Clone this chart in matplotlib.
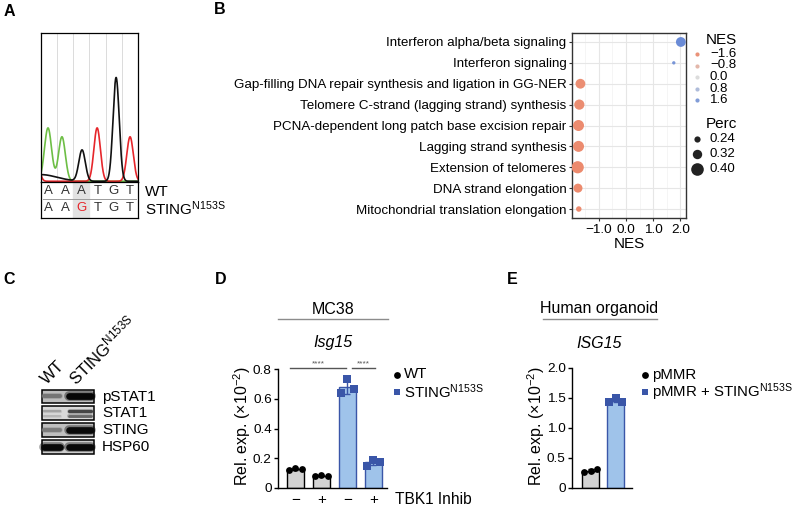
import matplotlib
matplotlib.use("Agg")
import matplotlib.pyplot as plt
import numpy as np
from matplotlib.colors import LinearSegmentedColormap, Normalize
from matplotlib.patches import Rectangle

W, H = 800, 507

plt.rcParams["font.family"] = ["Liberation Sans", "DejaVu Sans"]
plt.rcParams["mathtext.fontset"] = "custom"
plt.rcParams["mathtext.rm"] = "Liberation Sans"
plt.rcParams["mathtext.it"] = "Liberation Sans:italic"
plt.rcParams["axes.unicode_minus"] = True

# ---- A: Sanger trace around codon 153 ----
seq_wt = ["A", "A", "A", "T", "G", "T"]
seq_mut = ["A", "A", "G", "T", "G", "T"]
peak_pos = [-0.35, 0.0, 0.45, 1.31, 2.55, 3.48, 4.65, 5.51]
peak_height = [0.25, 0.045, 0.36, 0.30, 0.21, 0.36, 0.70, 0.30]
peak_sigma = [0.2, 1.0, 0.22, 0.21, 0.2, 0.2, 0.19, 0.2]
peak_base = ["T", "G", "A", "A", "G", "T", "G", "T"]

# ---- B: GSEA dot plot ----
pathways = [
    "Interferon alpha/beta signaling",
    "Interferon signaling",
    "Gap-filling DNA repair synthesis and ligation in GG-NER",
    "Telomere C-strand (lagging strand) synthesis",
    "PCNA-dependent long patch base excision repair",
    "Lagging strand synthesis",
    "Extension of telomeres",
    "DNA strand elongation",
    "Mitochondrial translation elongation",
]
nes = [2.02, 1.76, -1.68, -1.72, -1.75, -1.75, -1.78, -1.77, -1.74]
perc = [0.33, 0.16, 0.33, 0.34, 0.36, 0.36, 0.39, 0.31, 0.22]
nes_legend = [-1.6, -0.8, 0.0, 0.8, 1.6]
perc_legend = [0.24, 0.32, 0.40]

# ---- C: western blot ----
blot_proteins = ["pSTAT1", "STAT1", "STING", "HSP60"]
band_main = [[0.38, 0.97], [0.25, 0.68], [0.35, 0.95], [0.96, 0.96]]
band_lower = [[0.0, 0.0], [0.16, 0.52], [0.0, 0.0], [0.0, 0.0]]

# ---- D: MC38 Isg15 ----
d_inhib = ["\u2212", "+", "\u2212", "+"]
d_points = [[0.12, 0.135, 0.13], [0.08, 0.085, 0.08], [0.64, 0.73, 0.665], [0.15, 0.19, 0.175]]
d_genotype = ["WT", "WT", "STING", "STING"]

# ---- E: human organoid ISG15 ----
e_points = [[0.27, 0.28, 0.32], [1.44, 1.50, 1.44]]
e_genotype = ["WT", "STING"]

WT_FILL, WT_EDGE = "#D3D3D3", "#000000"
ST_FILL, ST_EDGE = "#9FC3EA", "#3A56A8"


def px_axes(x0, y0, x1, y1):
    return fig.add_axes([x0 / W, 1 - y1 / H, (x1 - x0) / W, (y1 - y0) / H])


fig = plt.figure(figsize=(W / 100, H / 100), dpi=100)

# ================= A =================
tr = px_axes(40.7, 33, 138, 182)
x = np.linspace(0, 6, 900)
for base, col in [("A", "#6DBE45"), ("T", "#E6262B"), ("G", "#111111")]:
    y = np.zeros_like(x)
    for p, h, s, b in zip(peak_pos, peak_height, peak_sigma, peak_base):
        if b == base:
            y += h * np.exp(-0.5 * ((x - p) / s) ** 2)
    tr.plot(x, y, color=col, lw=1.2)
for k in range(1, 6):
    tr.axvline(k, color="#D6D6D6", lw=0.6, zorder=0)
tr.set_xlim(0, 6)
tr.set_ylim(-0.005, 1.0)
tr.set_xticks([])
tr.set_yticks([])
for sp in tr.spines.values():
    sp.set_linewidth(0.9)

tb = px_axes(40.7, 182, 138, 218)
tb.set_xlim(0, 6)
tb.set_ylim(0, 1)
tb.add_patch(Rectangle((2, 0), 1, 1, color="#E2E2E2", zorder=0))
tb.plot([0.15, 5.85], [0.535, 0.535], color="#9A9A9A", lw=0.7)
for i, (a, b) in enumerate(zip(seq_wt, seq_mut)):
    tb.text(i + 0.5, 0.76, a, ha="center", va="center", fontsize=9.5, color="#333333")
    tb.text(i + 0.5, 0.27, b, ha="center", va="center", fontsize=9.5,
            color="#E6262B" if a != b else "#333333")
tb.set_xticks([])
tb.set_yticks([])
for sp in tb.spines.values():
    sp.set_linewidth(0.9)

# ================= B =================
cmap = LinearSegmentedColormap.from_list("nes", ["#EE7F5E", "#DCDCDC", "#6A8BD6"])
norm = Normalize(-2.02, 2.02)


def perc_to_size(p):
    d_px = np.interp(p, [0.15, 0.24, 0.32, 0.40], [3.0, 6.2, 9.4, 12.6])
    return (d_px * 0.72) ** 2


bx = px_axes(572, 33, 686, 218)
ypos = np.arange(len(pathways))[::-1]
bx.scatter(nes, ypos, s=perc_to_size(np.array(perc)), c=cmap(norm(np.array(nes))),
           linewidths=0, zorder=3)
bx.set_xlim(-1.99, 2.21)
bx.set_ylim(-0.43, len(pathways) - 1 + 0.43)
bx.set_yticks(ypos)
bx.set_yticklabels(pathways, fontsize=9.6)
bx.set_xticks([-1.0, 0.0, 1.0, 2.0])
bx.set_xticklabels(["\u22121.0", "0.0", "1.0", "2.0"], fontsize=9.7)
bx.set_xticks([-1.5, -0.5, 0.5, 1.5], minor=True)
bx.grid(True, which="major", color="#E6E6E6", lw=0.8)
bx.grid(True, which="minor", axis="x", color="#F2F2F2", lw=0.5)
bx.tick_params(which="major", length=2.5, width=0.8, color="#333333", pad=1.5)
bx.tick_params(which="minor", length=0)
bx.set_axisbelow(True)
for sp in bx.spines.values():
    sp.set_color("#333333")
    sp.set_linewidth(1.0)

# ================= C =================
cx = px_axes(42, 389.5, 94, 454)
cx.set_xlim(-0.357, 1.5)
cx.set_ylim(3.41, -0.41)
cx.axis("off")
bg_levels = [0.74, 0.85, 0.75, 0.80]
lane_half = [0.27, 0.40]
for r, prot in enumerate(blot_proteins):
    cx.add_patch(Rectangle((-0.357, r - 0.41), 1.857, 0.82, facecolor=str(bg_levels[r]),
                           edgecolor="black", lw=1.1, clip_on=False))
    for lane in range(2):
        bands = [(0.0, band_main[r][lane])]
        if band_lower[r][lane] > 0:
            bands = [(-0.15, band_main[r][lane]), (0.17, band_lower[r][lane])]
        for off, inten in bands:
            g = bg_levels[r] * (1 - inten)
            thick = (2.0 + 4.2 * inten) if len(bands) == 1 else (1.6 + 1.8 * inten)
            xs = [lane - lane_half[lane], lane + lane_half[lane]]
            cx.plot(xs, [r + off] * 2, color=str(g), lw=thick * 1.15, alpha=0.4,
                    solid_capstyle="round", clip_on=False)
            cx.plot(xs, [r + off] * 2, color=str(g), lw=thick * 0.8,
                    solid_capstyle="round", clip_on=False)

# ================= D =================
offsets = np.array([-0.25, 0.0, 0.25])
dx = px_axes(278, 369, 387, 488)
for i, pts in enumerate(d_points):
    wt = d_genotype[i] == "WT"
    fill, edge = (WT_FILL, WT_EDGE) if wt else (ST_FILL, ST_EDGE)
    m, sd = np.mean(pts), np.std(pts, ddof=1)
    dx.bar(i, m, width=0.65, color=fill, edgecolor=edge, lw=1.0, zorder=2)
    dx.errorbar(i, m, yerr=sd, color=edge, capsize=2.5, lw=1.0, capthick=1.0, zorder=3)
    dx.scatter(i + offsets, pts, marker="o" if wt else "s", s=24 if wt else 28,
               color="black" if wt else ST_EDGE, zorder=4, clip_on=False, linewidths=0)
dx.set_xlim(-0.673, 3.52)
dx.set_ylim(0, 0.8)
dx.set_yticks([0, 0.2, 0.4, 0.6, 0.8])
dx.set_yticklabels(["0", "0.2", "0.4", "0.6", "0.8"], fontsize=9.7)
dx.set_xticks(range(4))
dx.set_xticklabels(d_inhib, fontsize=11)
dx.tick_params(axis="x", length=0, pad=3.5)
dx.tick_params(axis="y", length=3, width=1.0, pad=1.5)
for s in ["top", "right"]:
    dx.spines[s].set_visible(False)
for s in ["left", "bottom"]:
    dx.spines[s].set_linewidth(1.0)
# significance bars
for (a, b) in [(0, 2), (2, 3)]:
    lo, hi = (a - 0.2, b - 0.05) if b == 2 else (a + 0.18, b + 0.05)
    dx.plot([lo, hi], [0.805, 0.805], color="#555555", lw=1.0, clip_on=False)
    dx.text((lo + hi) / 2, 0.81, "****", ha="center", va="bottom", fontsize=6,
            color="#555555", clip_on=False)

# ================= E =================
ex = px_axes(572, 368, 632, 488)
for i, pts in enumerate(e_points):
    wt = e_genotype[i] == "WT"
    fill, edge = (WT_FILL, WT_EDGE) if wt else (ST_FILL, ST_EDGE)
    m, sd = np.mean(pts), np.std(pts, ddof=1)
    ex.bar(i, m, width=0.68, color=fill, edgecolor=edge, lw=1.0, zorder=2)
    ex.errorbar(i, m, yerr=sd, color=edge, capsize=2.5, lw=1.0, capthick=1.0, zorder=3)
    ex.scatter(i + offsets, pts, marker="o" if wt else "s", s=24 if wt else 28,
               color="black" if wt else ST_EDGE, zorder=4, clip_on=False, linewidths=0)
ex.set_xlim(-0.74, 1.66)
ex.set_ylim(0, 2.0)
ex.set_yticks([0, 0.5, 1.0, 1.5, 2.0])
ex.set_yticklabels(["0", "0.5", "1.0", "1.5", "2.0"], fontsize=9.7)
ex.set_xticks([])
ex.tick_params(axis="y", length=3, width=1.0, pad=1.5)
for s in ["top", "right"]:
    ex.spines[s].set_visible(False)
for s in ["left", "bottom"]:
    ex.spines[s].set_linewidth(1.0)

# ================= overlay text =================
ov = fig.add_axes([0, 0, 1, 1])
ov.set_xlim(0, W)
ov.set_ylim(H, 0)
ov.axis("off")

for lab, (lx, ly) in zip("ABCDE", [(9, 12), (220, 10), (9, 279), (221, 279), (512, 279)]):
    ov.text(lx, ly, lab, ha="center", va="center", fontsize=11.5, fontweight="bold")

sup = r"STING$^{\mathregular{N153S}}$"

# A labels
ov.text(145, 192, "WT", ha="left", va="center", fontsize=11)
ov.text(145, 209, sup, ha="left", va="center", fontsize=11)

# B axis label and legends
ov.text(629, 244, "NES", ha="center", va="center", fontsize=11)
ov.text(706, 40, "NES", ha="left", va="center", fontsize=11)
for k, v in enumerate(nes_legend):
    yy = 54 + k * 11.5
    ov.scatter([697], [yy], s=9, color=cmap(norm(v)), linewidths=0)
    ov.text(710, yy, f"{v:.1f}".replace("-", "\u2212"), ha="left", va="center", fontsize=9.5)
ov.text(706, 124, "Perc", ha="left", va="center", fontsize=11)
for k, v in enumerate(perc_legend):
    yy = 139 + k * 15
    ov.scatter([697], [yy], s=perc_to_size(v), color="#222222", linewidths=0)
    ov.text(710, yy, f"{v:.2f}", ha="left", va="center", fontsize=9.5)

# C labels
for r, prot in enumerate(blot_proteins):
    ov.text(102, 396.5 + r * 16.9, prot, ha="left", va="center", fontsize=11)
ov.text(47, 385, "WT", rotation=45, rotation_mode="anchor", ha="left", va="baseline", fontsize=12)
ov.text(76, 386, sup, rotation=45, rotation_mode="anchor", ha="left", va="baseline", fontsize=12)

# D titles, label, legend
ov.text(333, 309, "MC38", ha="center", va="center", fontsize=11.5)
ov.plot([278, 388], [319, 319], color="#8C8C8C", lw=1.0)
ov.text(333, 343, "Isg15", ha="center", va="center", fontsize=11.5, style="italic")
ov.text(242, 426, r"Rel. exp. ($\mathregular{\times10^{-2}}$)", rotation=90,
        ha="center", va="center", fontsize=11.5)
ov.text(395, 499, "TBK1 Inhib", ha="left", va="center", fontsize=11.2)
ov.scatter([397], [374.5], s=24, color="black", marker="o", linewidths=0)
ov.text(404, 374.5, "WT", ha="left", va="center", fontsize=10.8)
ov.scatter([397], [392], s=24, color=ST_EDGE, marker="s", linewidths=0)
ov.text(404, 392, sup, ha="left", va="center", fontsize=10.8)

# E titles, label, legend
ov.text(599, 309, "Human organoid", ha="center", va="center", fontsize=11.5)
ov.plot([543, 657], [319, 319], color="#8C8C8C", lw=1.0)
ov.text(599, 343, "ISG15", ha="center", va="center", fontsize=11.5, style="italic")
ov.text(536, 426, r"Rel. exp. ($\mathregular{\times10^{-2}}$)", rotation=90,
        ha="center", va="center", fontsize=11.5)
ov.scatter([645], [374.5], s=24, color="black", marker="o", linewidths=0)
ov.text(652, 374.5, "pMMR", ha="left", va="center", fontsize=10.8)
ov.scatter([645], [392], s=24, color=ST_EDGE, marker="s", linewidths=0)
ov.text(652, 392, "pMMR + " + sup, ha="left", va="center", fontsize=10.8)

fig.savefig("out.png", dpi=100, facecolor="white")
